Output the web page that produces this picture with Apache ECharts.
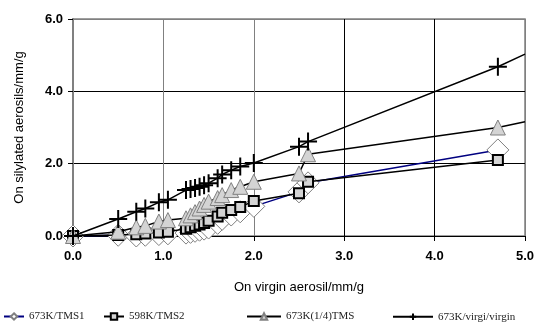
<!DOCTYPE html>
<html>
<head>
<meta charset="utf-8">
<script src="https://cdn.jsdelivr.net/npm/echarts@6/dist/echarts.min.js"></script>
<style>html,body{margin:0;padding:0;background:#fff}#c{width:538px;height:324px}</style>
</head>
<body>
<div id="c"></div>
<script>
var seriesNames = ['673K/TMS1', '598K/TMS2', '673K(1/4)TMS', '673K/virgi/virgin'];
var xValues = [0, 0.5, 0.7, 0.8, 0.95, 1.05, 1.25, 1.3, 1.35, 1.4, 1.45, 1.5, 1.6, 1.65, 1.75, 1.85, 2.0, 2.5, 2.6, 4.7];
var tms1 = [0, 0.02, 0.0, 0.02, 0.04, 0.06, 0.08, 0.1, 0.13, 0.16, 0.19, 0.22, 0.35, 0.46, 0.58, 0.67, 0.82, 1.22, 1.47, 2.38];
var tms2 = [0, 0.03, 0.05, 0.07, 0.1, 0.12, 0.2, 0.24, 0.28, 0.32, 0.36, 0.42, 0.54, 0.64, 0.72, 0.8, 0.97, 1.18, 1.5, 2.1];
var tms14 = [0, 0.12, 0.24, 0.28, 0.40, 0.44, 0.49, 0.57, 0.66, 0.76, 0.86, 0.95, 1.05, 1.13, 1.27, 1.36, 1.50, 1.73, 2.26, 3.0];
var virgin = [0, 0.47, 0.67, 0.76, 0.93, 1.0, 1.27, 1.3, 1.33, 1.36, 1.4, 1.46, 1.6, 1.7, 1.82, 1.92, 2.02, 2.47, 2.61, 4.68];
// trend-line end points (lines continue to the right edge without markers)
var tms14TrendEnd = [5.0, 3.16];
var virginTrendEnd = [5.0, 5.03];
var xTicks = [0, 1, 2, 3, 4, 5];
var yTicks = [0, 2, 4, 6];

function pairs(ys) { return xValues.map(function (x, i) { return [x, ys[i]]; }); }
function withEnd(ys, end) {
  var d = pairs(ys);
  d.push({ value: end, symbol: 'none' });
  return d;
}

var plusPath = 'path://M10,0 L10,20 M0,10 L20,10';

var chart = echarts.init(document.getElementById('c'), null, { renderer: 'canvas' });
var axisLabelFont = { fontFamily: 'Liberation Sans, Arial', fontSize: 13, fontWeight: 'bold', color: '#000' };
var legendText = { fontFamily: 'Liberation Serif, Times New Roman', fontSize: 11, color: '#222' };
function legendAt(name, left, w) {
  return { data: [name], left: left, top: 311, itemWidth: w, itemHeight: 8, itemGap: 4, textStyle: legendText, padding: 0 };
}
chart.setOption({
  animation: false,
  backgroundColor: '#fff',
  grid: { left: 73, right: 13, top: 19, bottom: 88, show: true, borderColor: '#808080', borderWidth: 1.5, backgroundColor: 'transparent' },
  legend: [
    legendAt(seriesNames[0], 3, 20),
    legendAt(seriesNames[1], 103, 20),
    legendAt(seriesNames[2], 246, 34),
    legendAt(seriesNames[3], 392, 40)
  ],
  xAxis: {
    type: 'value', min: xTicks[0], max: xTicks[xTicks.length - 1], interval: 1,
    name: 'On virgin aerosil/mm/g', nameLocation: 'middle', nameGap: 45,
    nameTextStyle: { fontFamily: 'Liberation Sans, Arial', fontSize: 13, color: '#000' },
    axisLine: { show: true, onZero: false, lineStyle: { color: '#000', width: 1 } },
    axisTick: { show: true, inside: false, length: 5, lineStyle: { color: '#000' } },
    axisLabel: Object.assign({ margin: 14, formatter: function (v) { return v.toFixed(1); } }, axisLabelFont),
    splitLine: { show: true, lineStyle: { color: ['#808080', '#808080', '#808080', '#000', '#000', '#808080'], width: 1 } }
  },
  yAxis: {
    type: 'value', min: yTicks[0], max: yTicks[yTicks.length - 1], interval: 2,
    name: 'On silylated aerosils/mm/g', nameLocation: 'middle', nameGap: 47,
    nameTextStyle: { fontFamily: 'Liberation Sans, Arial', fontSize: 13, color: '#000' },
    axisLine: { show: true, onZero: false, lineStyle: { color: '#808080', width: 2 } },
    axisTick: { show: true, inside: false, length: 5, lineStyle: { color: '#000' } },
    axisLabel: Object.assign({ margin: 10, formatter: function (v) { return v.toFixed(1); } }, axisLabelFont),
    splitLine: { show: true, lineStyle: { color: ['#000', '#000', '#000', '#808080'], width: 1 } }
  },
  series: [
    {
      name: seriesNames[0], type: 'line', data: pairs(tms1), z: 2,
      symbol: 'diamond', symbolSize: 22,
      itemStyle: { color: '#fff', borderColor: '#808080', borderWidth: 1 },
      lineStyle: { color: '#000080', width: 1.5 }
    },
    {
      name: seriesNames[1], type: 'line', data: pairs(tms2), z: 3,
      symbol: 'rect', symbolSize: 10,
      itemStyle: { color: '#d4d4d4', borderColor: '#000', borderWidth: 2 },
      lineStyle: { color: '#000', width: 1.5 }
    },
    {
      name: seriesNames[2], type: 'line', data: withEnd(tms14, tms14TrendEnd), z: 4,
      symbol: 'triangle', symbolSize: 15,
      itemStyle: { color: '#d4d4d4', borderColor: '#808080', borderWidth: 1 },
      lineStyle: { color: '#000', width: 1.5 }
    },
    {
      name: seriesNames[3], type: 'line', data: withEnd(virgin, virginTrendEnd), z: 5,
      symbol: plusPath, symbolSize: 18,
      itemStyle: { color: 'none', borderColor: '#000', borderWidth: 2 },
      lineStyle: { color: '#000', width: 1.5 }
    }
  ]
});
</script>
</body>
</html>
